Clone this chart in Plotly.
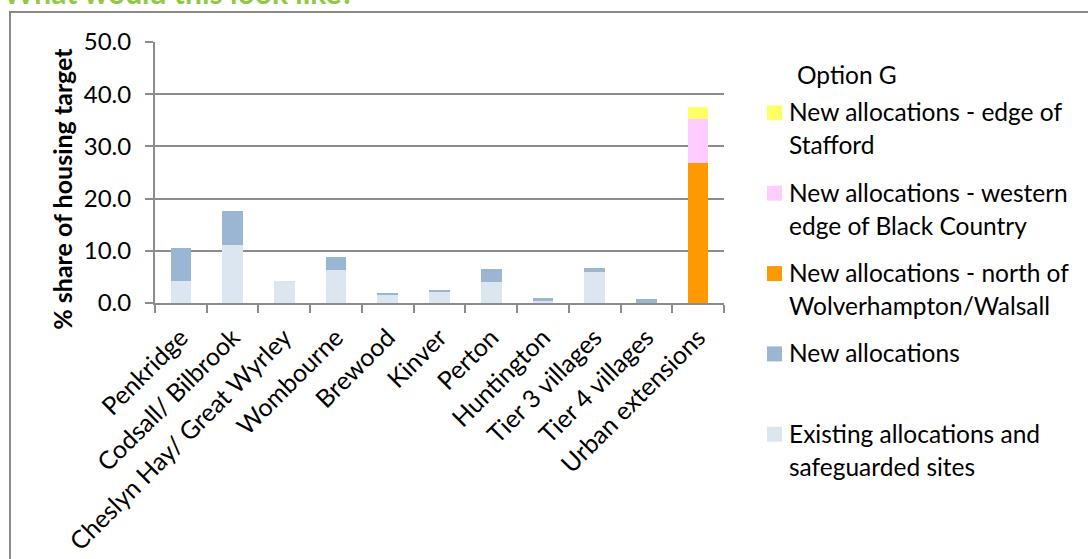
import plotly.graph_objects as go

# Settlements along the x axis
categories = [
    "Penkridge", "Codsall/ Bilbrook", "Cheslyn Hay/ Great Wyrley", "Wombourne",
    "Brewood", "Kinver", "Perton", "Huntington", "Tier 3 villages",
    "Tier 4 villages", "Urban extensions",
]

# % share of housing target by source
existing = [4.3, 11.2, 4.2, 6.3, 1.5, 2.1, 4.0, 0.45, 6.0, 0.0, 0.0]
new_alloc = [6.2, 6.4, 0.0, 2.5, 0.4, 0.4, 2.5, 0.45, 0.8, 0.7, 0.0]

# Urban extension components
urban_cat = ["Urban extensions"]
north_wolves = [26.8]
black_country = [8.5]
edge_stafford = [2.3]

y_ticks = [0, 10, 20, 30, 40, 50]
y_tick_text = ["0.0", "10.0", "20.0", "30.0", "40.0", "50.0"]

FONT = "Lato"
GRID = "#8c8c8c"

# Plot-area geometry in pixels (for placing free text in paper units)
W, H = 1088, 559
L, R, T, B = 155, 1088 - 724, 42, 559 - 303.5
PW, PH = W - L - R, H - T - B


def px(x):
    return (x - L) / PW


def py(y):
    return (H - B - y) / PH


# (legend lines, x categories, values, colour) in stacking order
series = [
    (["Existing allocations and", "safeguarded sites"], categories, existing, "#dce6f0"),
    (["New allocations"], categories, new_alloc, "#9ab6d2"),
    (["New allocations - north of", "Wolverhampton/Walsall"], urban_cat, north_wolves, "#ff9900"),
    (["New allocations - western", "edge of Black Country"], urban_cat, black_country, "#ffccff"),
    (["New allocations - edge of", "Stafford"], urban_cat, edge_stafford, "#ffff66"),
]

fig = go.Figure()
for lines, xs, ys, color in series:
    fig.add_trace(go.Bar(
        name=" ".join(lines), x=xs, y=ys,
        marker=dict(color=color, line=dict(width=0)),
    ))

fig.update_layout(
    width=W, height=H,
    margin=dict(l=L, r=R, t=T, b=B, pad=0, autoexpand=False),
    barmode="stack",
    bargap=0.6,
    showlegend=False,
    paper_bgcolor="white",
    plot_bgcolor="white",
    font=dict(family=FONT, color="black"),
    xaxis=dict(
        categoryorder="array", categoryarray=categories,
        tickangle=-45, tickfont=dict(size=25, family=FONT),
        ticklabelstandoff=8, automargin=False,
        showline=True, linecolor=GRID, linewidth=2,
        ticks="outside", tickson="boundaries", ticklen=8, tickwidth=2, tickcolor=GRID,
        showgrid=False,
    ),
    yaxis=dict(
        range=[0, 50], tickvals=y_ticks, ticktext=y_tick_text,
        tickfont=dict(size=24, family=FONT),
        showline=True, linecolor=GRID, linewidth=2,
        ticks="outside", ticklen=8, tickwidth=2, tickcolor=GRID,
        ticklabelstandoff=9, automargin=False,
        showgrid=True, gridcolor=GRID, gridwidth=2,
        zeroline=False,
    ),
)

# Outer frame
fig.add_shape(
    type="rect", xref="paper", yref="paper",
    x0=px(10), x1=px(1100), y0=py(12), y1=py(580),
    line=dict(color="#8a8a8a", width=2), fillcolor="rgba(0,0,0,0)", layer="below",
)

# Heading at the top edge
fig.add_annotation(
    text="<b>What would this look like?</b>", xref="paper", yref="paper",
    x=px(1), y=py(-8), xanchor="left", yanchor="middle", showarrow=False,
    font=dict(size=30, family=FONT, color="#92c84a"),
)

# Legend: heading, then one entry per series (top of stack first)
LEGEND_SIZE = 24.5
fig.add_annotation(
    text="Option G", xref="paper", yref="paper",
    x=px(795), y=py(75), xanchor="left", yanchor="middle", showarrow=False,
    font=dict(size=LEGEND_SIZE, family=FONT, color="black"),
)
ENTRY_TOP, ENTRY_PITCH, LINE_PITCH = 113, 80.5, 33
for k, (lines, _, _, color) in enumerate(reversed(series)):
    yc = ENTRY_TOP + k * ENTRY_PITCH
    fig.add_shape(
        type="rect", xref="paper", yref="paper",
        x0=px(767), x1=px(782), y0=py(yc - 7.5), y1=py(yc + 7.5),
        line=dict(width=0), fillcolor=color,
    )
    for j, line in enumerate(lines):
        fig.add_annotation(
            text=line, xref="paper", yref="paper",
            x=px(787), y=py(yc - 1 + j * LINE_PITCH), xanchor="left", yanchor="middle",
            showarrow=False, font=dict(size=LEGEND_SIZE, family=FONT, color="black"),
        )

# Y axis title
fig.add_annotation(
    text="<b>% share of housing target</b>", xref="paper", yref="paper",
    x=px(62), y=py(189), xanchor="center", yanchor="middle", textangle=-90,
    showarrow=False, font=dict(size=25, family=FONT, color="black"),
)

fig.write_html("out.html")
